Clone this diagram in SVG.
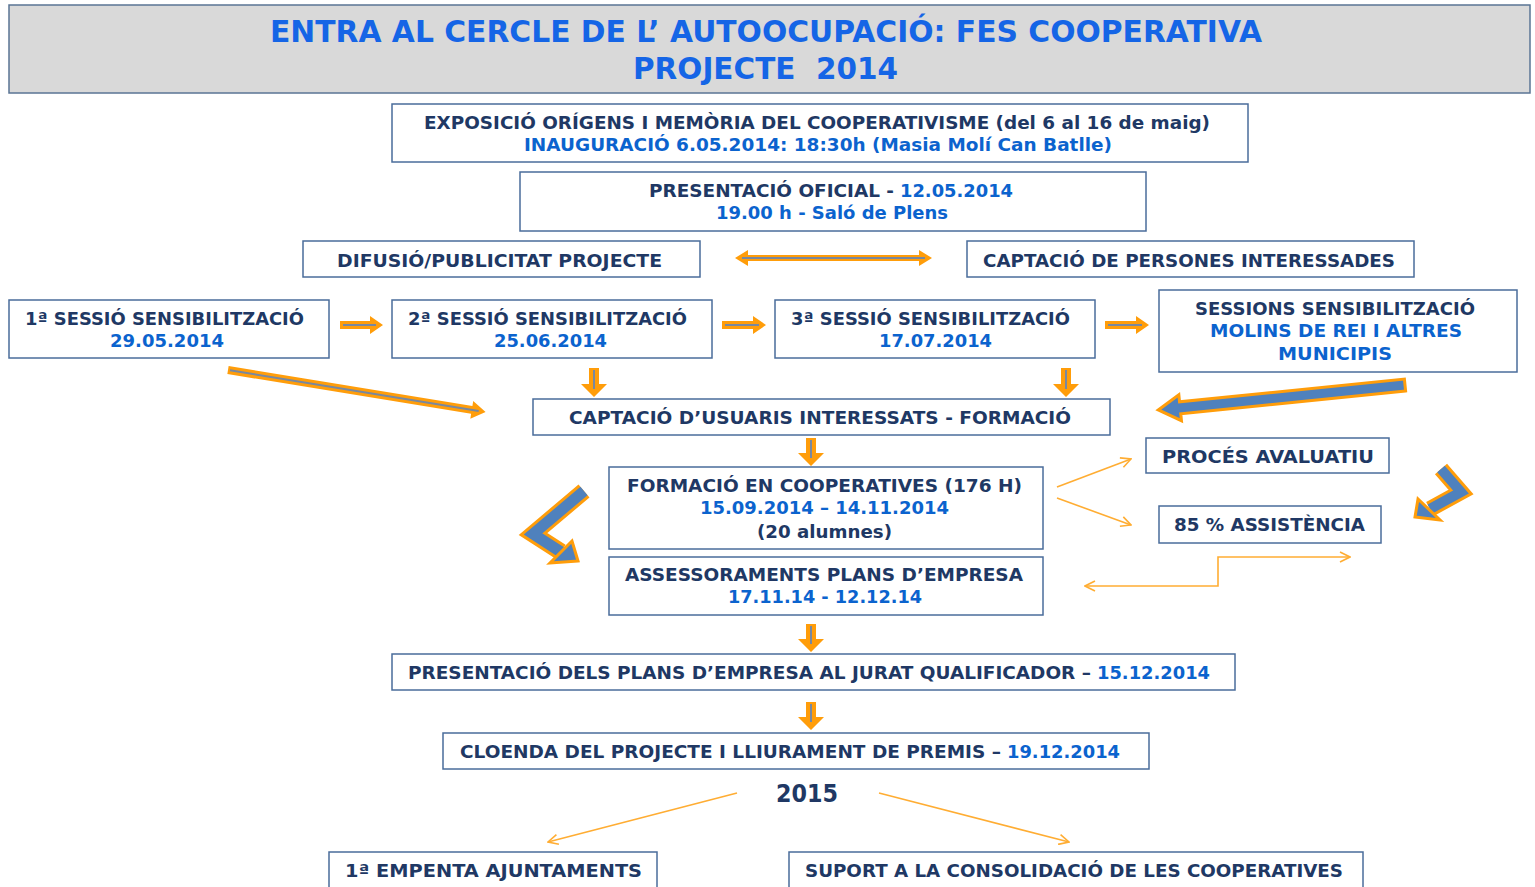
<svg xmlns="http://www.w3.org/2000/svg" width="1535" height="887" viewBox="0 0 1535 887">
<style>
.bx{fill:#fff;stroke:#4a6c9b;stroke-width:1.5}
.t{font-family:"DejaVu Sans","Liberation Sans",sans-serif;font-weight:bold;font-size:17px;fill:#203864}
.b{fill:#0b63ce}
.ttl{font-family:"DejaVu Sans","Liberation Sans",sans-serif;font-weight:bold;font-size:30px;fill:#1565e6}
.oa{fill:#ff9d0a}
.gl{stroke:#7888a0;stroke-width:2;fill:none}
.thin{stroke:#ffad33;stroke-width:1.6;fill:none}
.big{fill:#4f81bd;stroke:#ff9d0a;stroke-width:3;stroke-linejoin:miter}
</style>
<defs>
<marker id="oh" viewBox="0 0 12 12" refX="11" refY="6" markerWidth="12" markerHeight="12" markerUnits="userSpaceOnUse" orient="auto-start-reverse">
<path d="M1,1 L11,6 L1,11" fill="none" stroke="#ffad33" stroke-width="1.6"/>
</marker>
</defs>

<g id="title">
<rect x="9" y="5" width="1521" height="88" fill="#d9d9d9" stroke="#5a7494" stroke-width="1.5"/>
<text class="ttl" x="270" y="42" textLength="992" lengthAdjust="spacingAndGlyphs">ENTRA AL CERCLE DE L’ AUTOOCUPACIÓ: FES COOPERATIVA</text>
<text class="ttl" x="633" y="79" textLength="265" lengthAdjust="spacingAndGlyphs">PROJECTE&#160; 2014</text>
</g>

<g id="exposicio">
<rect class="bx" x="392" y="104" width="856" height="58"/>
<text class="t" x="424" y="129" textLength="786" lengthAdjust="spacingAndGlyphs">EXPOSICIÓ ORÍGENS I MEMÒRIA DEL COOPERATIVISME (del 6 al 16 de maig)</text>
<text class="t b" x="524" y="151" textLength="588" lengthAdjust="spacingAndGlyphs">INAUGURACIÓ 6.05.2014: 18:30h (Masia Molí Can Batlle)</text>
</g>

<g id="presentacio-oficial">
<rect class="bx" x="520" y="172" width="626" height="59"/>
<text class="t" x="649" y="197" textLength="245" lengthAdjust="spacingAndGlyphs">PRESENTACIÓ OFICIAL -</text>
<text class="t b" x="900" y="197" textLength="113" lengthAdjust="spacingAndGlyphs">12.05.2014</text>
<text class="t b" x="716" y="219" textLength="232" lengthAdjust="spacingAndGlyphs">19.00 h - Saló de Plens</text>
</g>

<g id="difusio">
<rect class="bx" x="303" y="241" width="397" height="36"/>
<text class="t" x="337" y="267" textLength="325" lengthAdjust="spacingAndGlyphs">DIFUSIÓ/PUBLICITAT PROJECTE</text>
</g>

<g id="captacio-persones">
<rect class="bx" x="967" y="241" width="447" height="36"/>
<text class="t" x="983" y="267" textLength="412" lengthAdjust="spacingAndGlyphs">CAPTACIÓ DE PERSONES INTERESSADES</text>
</g>

<g id="sessio1">
<rect class="bx" x="9" y="300" width="320" height="58"/>
<text class="t" x="25" y="325" textLength="279" lengthAdjust="spacingAndGlyphs">1ª SESSIÓ SENSIBILITZACIÓ</text>
<text class="t b" x="110" y="347" textLength="114" lengthAdjust="spacingAndGlyphs">29.05.2014</text>
</g>
<g id="sessio2">
<rect class="bx" x="392" y="300" width="320" height="58"/>
<text class="t" x="408" y="325" textLength="279" lengthAdjust="spacingAndGlyphs">2ª SESSIÓ SENSIBILITZACIÓ</text>
<text class="t b" x="494" y="347" textLength="113" lengthAdjust="spacingAndGlyphs">25.06.2014</text>
</g>
<g id="sessio3">
<rect class="bx" x="775" y="300" width="320" height="58"/>
<text class="t" x="791" y="325" textLength="279" lengthAdjust="spacingAndGlyphs">3ª SESSIÓ SENSIBILITZACIÓ</text>
<text class="t b" x="879" y="347" textLength="113" lengthAdjust="spacingAndGlyphs">17.07.2014</text>
</g>
<g id="sessio4">
<rect class="bx" x="1159" y="290" width="358" height="82"/>
<text class="t" x="1195" y="315" textLength="280" lengthAdjust="spacingAndGlyphs">SESSIONS SENSIBILITZACIÓ</text>
<text class="t b" x="1210" y="337" textLength="252" lengthAdjust="spacingAndGlyphs">MOLINS DE REI I ALTRES</text>
<text class="t b" x="1278" y="360" textLength="114" lengthAdjust="spacingAndGlyphs">MUNICIPIS</text>
</g>

<g id="captacio-usuaris">
<rect class="bx" x="533" y="399" width="577" height="36"/>
<text class="t" x="569" y="424" textLength="502" lengthAdjust="spacingAndGlyphs">CAPTACIÓ D’USUARIS INTERESSATS - FORMACIÓ</text>
</g>

<g id="formacio">
<rect class="bx" x="609" y="467" width="434" height="82"/>
<text class="t" x="627" y="492" textLength="395" lengthAdjust="spacingAndGlyphs">FORMACIÓ EN COOPERATIVES (176 H)</text>
<text class="t b" x="700" y="514" textLength="249" lengthAdjust="spacingAndGlyphs">15.09.2014 – 14.11.2014</text>
<text class="t" x="757" y="538" textLength="135" lengthAdjust="spacingAndGlyphs">(20 alumnes)</text>
</g>

<g id="proces">
<rect class="bx" x="1146" y="438" width="243" height="35"/>
<text class="t" x="1162" y="463" textLength="212" lengthAdjust="spacingAndGlyphs">PROCÉS AVALUATIU</text>
</g>

<g id="assistencia">
<rect class="bx" x="1159" y="506" width="222" height="37"/>
<text class="t" x="1174" y="531" textLength="191" lengthAdjust="spacingAndGlyphs">85 % ASSISTÈNCIA</text>
</g>

<g id="assessoraments">
<rect class="bx" x="609" y="557" width="434" height="58"/>
<text class="t" x="625" y="581" textLength="398" lengthAdjust="spacingAndGlyphs">ASSESSORAMENTS PLANS D’EMPRESA</text>
<text class="t b" x="728" y="603" textLength="194" lengthAdjust="spacingAndGlyphs">17.11.14 - 12.12.14</text>
</g>

<g id="presentacio-plans">
<rect class="bx" x="392" y="654" width="843" height="36"/>
<text class="t" x="408" y="679" textLength="683" lengthAdjust="spacingAndGlyphs">PRESENTACIÓ DELS PLANS D’EMPRESA AL JURAT QUALIFICADOR –</text>
<text class="t b" x="1097" y="679" textLength="113" lengthAdjust="spacingAndGlyphs">15.12.2014</text>
</g>

<g id="cloenda">
<rect class="bx" x="443" y="733" width="706" height="36"/>
<text class="t" x="460" y="758" textLength="541" lengthAdjust="spacingAndGlyphs">CLOENDA DEL PROJECTE I LLIURAMENT DE PREMIS –</text>
<text class="t b" x="1007" y="758" textLength="113" lengthAdjust="spacingAndGlyphs">19.12.2014</text>
</g>

<g id="any2015">
<text class="t" x="776" y="802" textLength="62" lengthAdjust="spacingAndGlyphs" style="font-size:24px">2015</text>
</g>

<g id="empenta">
<rect class="bx" x="329" y="852" width="328" height="40"/>
<text class="t" x="345" y="877" textLength="297" lengthAdjust="spacingAndGlyphs">1ª EMPENTA AJUNTAMENTS</text>
</g>

<g id="suport">
<rect class="bx" x="789" y="852" width="574" height="40"/>
<text class="t" x="805" y="877" textLength="538" lengthAdjust="spacingAndGlyphs">SUPORT A LA CONSOLIDACIÓ DE LES COOPERATIVES</text>
</g>

<g id="connectors">
<polygon class="oa" points="735,258 748,250 748,255 919,255 919,250 932,258 919,266 919,261 748,261 748,266"/>
<line class="gl" x1="742" y1="258" x2="925" y2="258"/>
<polygon class="oa" points="340,321 370,321 370,316 383,325 370,334 370,329 340,329"/>
<line class="gl" x1="343" y1="325" x2="376" y2="325"/>
<polygon class="oa" points="722,321 753,321 753,316 766,325 753,334 753,329 722,329"/>
<line class="gl" x1="725" y1="325" x2="759" y2="325"/>
<polygon class="oa" points="1105,321 1136,321 1136,316 1149,325 1136,334 1136,329 1105,329"/>
<line class="gl" x1="1108" y1="325" x2="1142" y2="325"/>
<polygon class="oa" points="589,368 599,368 599,384 607,384 594,397 581,384 589,384"/>
<line class="gl" x1="594" y1="370" x2="594" y2="389"/>
<polygon class="oa" points="1061,368 1071,368 1071,384 1079,384 1066,397 1053,384 1061,384"/>
<line class="gl" x1="1066" y1="370" x2="1066" y2="389"/>
<polygon class="oa" points="806,438 816,438 816,453 824,453 811,466 798,453 806,453"/>
<line class="gl" x1="811" y1="440" x2="811" y2="458"/>
<polygon class="oa" points="806,624 816,624 816,639 824,639 811,652 798,639 806,639"/>
<line class="gl" x1="811" y1="626" x2="811" y2="644"/>
<polygon class="oa" points="806,702 816,702 816,717 824,717 811,730 798,717 806,717"/>
<line class="gl" x1="811" y1="704" x2="811" y2="722"/>
<g transform="translate(228,370) rotate(9.28)">
<polygon class="oa" points="0,-4 247,-4 247,-9 261,0 247,9 247,4 0,4"/>
<line class="gl" x1="2" y1="0" x2="254" y2="0"/>
</g>
<g transform="translate(1405,385) rotate(174.22)">
<polygon class="big" points="0,-6 226,-6 226,-13 248,0 226,13 226,6 0,6"/>
</g>
<polyline points="584,491 533,534 561,552" fill="none" stroke="#ff9d0a" stroke-width="17" stroke-linejoin="miter"/>
<polyline points="584,491 533,534 561,552" fill="none" stroke="#4f81bd" stroke-width="11" stroke-linejoin="miter"/>
<polygon class="big" points="578,561 550,563 572,541"/>
<polyline points="1441,469 1461,492 1430,509" fill="none" stroke="#ff9d0a" stroke-width="16" stroke-linejoin="miter"/>
<polyline points="1441,469 1461,492 1430,509" fill="none" stroke="#4f81bd" stroke-width="10" stroke-linejoin="miter"/>
<polygon class="big" points="1415,517 1440,520 1418,499"/>
<line class="thin" x1="1057" y1="487" x2="1131" y2="459" marker-end="url(#oh)"/>
<line class="thin" x1="1057" y1="498" x2="1131" y2="525" marker-end="url(#oh)"/>
<polyline class="thin" points="1085,586 1218,586 1218,557 1350,557" marker-start="url(#oh)" marker-end="url(#oh)"/>
<line class="thin" x1="737" y1="793" x2="548" y2="842" marker-end="url(#oh)"/>
<line class="thin" x1="879" y1="793" x2="1069" y2="842" marker-end="url(#oh)"/>
</g>
</svg>
